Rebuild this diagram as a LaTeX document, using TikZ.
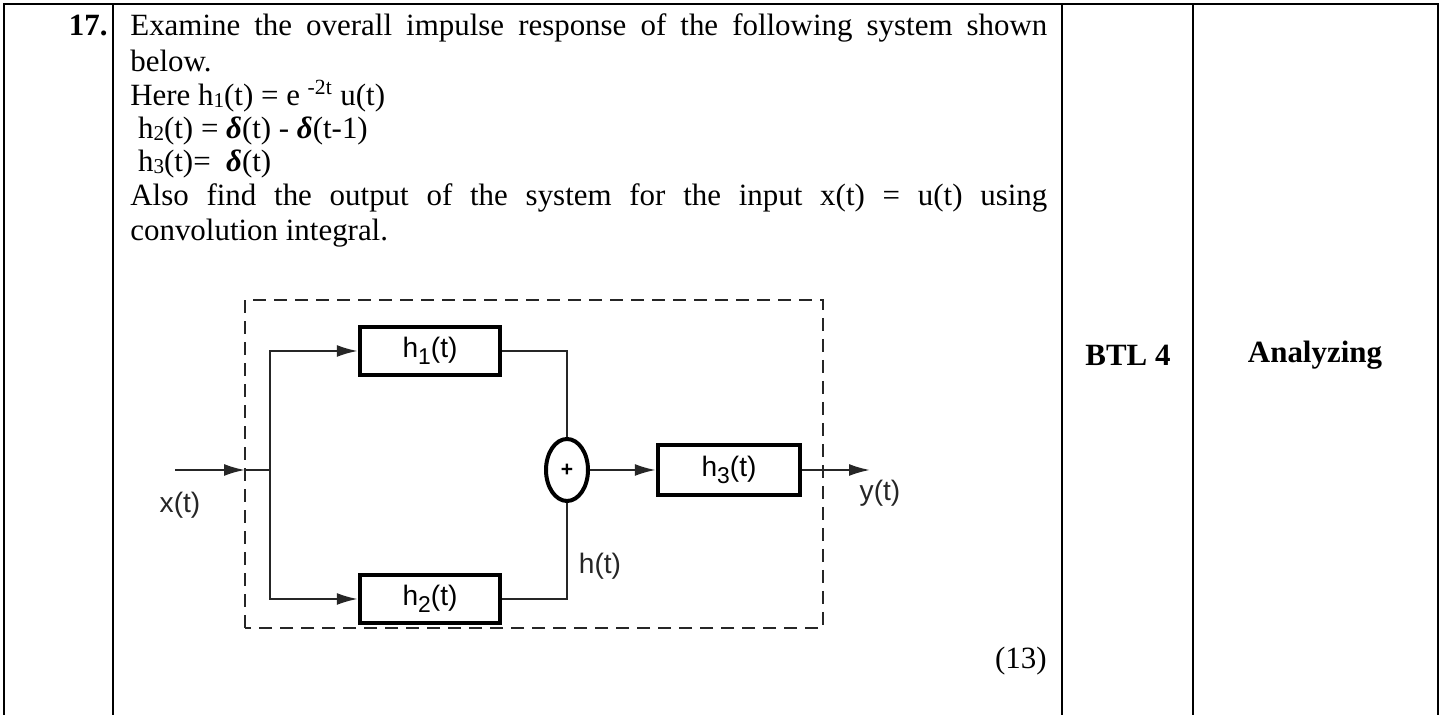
\documentclass[tikz,border=0pt]{standalone}
\usepackage{fontspec}
\setmainfont{Liberation Serif}
\newfontfamily\diagfont{Liberation Sans}
\usetikzlibrary{arrows.meta}
\usetikzlibrary{shapes.geometric}

\tikzset{
    rule/.style={black,line width=0.04cm},
    qline/.style={anchor=base west,inner sep=0pt,font=\fontsize{17.6}{20}\selectfont},
    block/.style={draw,line width=0.09cm,minimum width=2.8cm,minimum height=0.96cm,
        inner sep=0pt,font=\diagfont\fontsize{16}{18}\selectfont},
    sumnode/.style={draw,ellipse,line width=0.08cm,minimum width=0.84cm,minimum height=1.24cm,
        inner sep=0pt,font=\diagfont\bfseries\fontsize{12}{14}\selectfont},
    wire/.style={line width=0.04cm,color=black!85},
    sig/.style={font=\diagfont\fontsize{16}{18}\selectfont,color=black!85},
    tip/.style={-{Latex[length=0.42cm,width=0.24cm]}},
}
\newcommand{\dlt}{{\bfseries\itshape δ}}
\newcommand{\sub}[1]{\raisebox{-0.6pt}{\fontsize{12}{12}\selectfont #1}}
\newcommand{\dsub}[1]{\raisebox{-4pt}{\fontsize{13}{13}\selectfont #1}}

\begin{document}
\begin{tikzpicture}
    \useasboundingbox (0,0) rectangle (28.86,14.3);
    % table frame
    \draw[rule] (0.08,0) -- (0.08,14.22) -- (28.76,14.22) -- (28.76,0);
    \draw[rule] (2.26,0) -- (2.26,14.22);
    \draw[rule] (21.24,0) -- (21.24,14.22);
    \draw[rule] (23.86,0) -- (23.86,14.22);

    % question text
    \node[qline,anchor=base east] (num) at (2.16,13.58) {\bfseries 17.};
    \node[qline] (l1) at (2.6,13.58) {\makebox[18.34cm][s]{Examine the overall impulse response of the following system shown}};
    \node[qline] (l2) at (2.6,12.86) {below.};
    \node[qline] (l3) at (2.6,12.18) {Here h\sub{1}(t) = e \textsuperscript{-2t} u(t)};
    \node[qline] (l4) at (2.6,11.52) {\ h\sub{2}(t) = \dlt(t) - \dlt(t-1)};
    \node[qline] (l5) at (2.6,10.86) {\ h\sub{3}(t)= \ \dlt(t)};
    \node[qline] (l6) at (2.6,10.18) {\makebox[18.34cm][s]{Also find the output of the system for the input x(t) = u(t) using}};
    \node[qline] (l7) at (2.6,9.48) {convolution integral.};
    \node[qline,anchor=base east] (marks) at (20.94,0.92) {(13)};

    \node[font=\bfseries\fontsize{17.6}{20}\selectfont] (btl) at (22.56,7.2) {BTL 4};
    \node[font=\bfseries\fontsize{17.6}{20}\selectfont] (level) at (26.3,7.2) {Analyzing};

    % block diagram
    \draw[dashed,line width=0.05cm,dash pattern=on 0.26cm off 0.16cm,color=black!85] (4.9,1.74) rectangle (16.46,8.3);

    \node[block] (h1) at (8.6,7.28) {h\dsub{1}(t)};
    \node[block] (h2) at (8.6,2.32) {h\dsub{2}(t)};
    \node[sumnode] (sum) at (11.34,4.9) {+};
    \node[block,minimum width=2.84cm,minimum height=1.0cm] (h3) at (14.58,4.9) {h\dsub{3}(t)};

    \coordinate (in) at (3.5,4.9);
    \coordinate (mid) at (4.9,4.9);
    \coordinate (br) at (5.4,4.9);
    \coordinate (out) at (17.4,4.9);

    \draw[wire,tip] (in) -- (mid);
    \draw[wire] (mid) -- (br);
    \draw[wire,tip] (br) |- (h1.west);
    \draw[wire,tip] (br) |- (h2.west);
    \draw[wire] (h1.east) -| (sum.north);
    \draw[wire] (h2.east) -| (sum.south);
    \draw[wire,tip] (sum.east) -- (h3.west);
    \draw[wire,tip] (h3.east) -- (out);

    \node[sig] (xt) at (3.6,4.2) {x(t)};
    \node[sig] (yt) at (17.6,4.44) {y(t)};
    \node[sig] (ht) at (12.0,2.98) {h(t)};
\end{tikzpicture}
\end{document}
